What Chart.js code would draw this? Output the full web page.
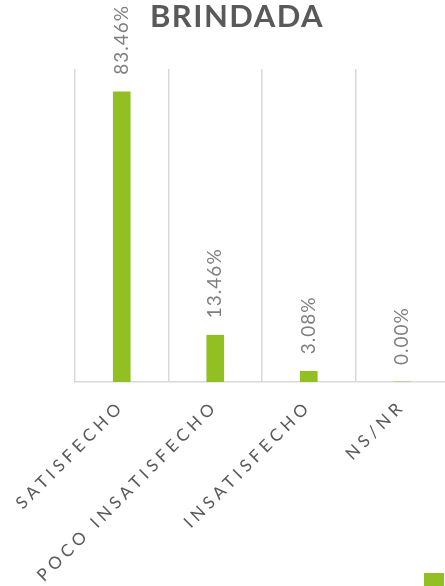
<!DOCTYPE html>
<html lang="es">
<head>
<meta charset="utf-8">
<title>BRINDADA</title>
<script src="https://cdn.jsdelivr.net/npm/chart.js@4"></script>
<style>
  html, body { margin: 0; padding: 0; background: #ffffff; }
  #frame { width: 445px; height: 586px; overflow: hidden; position: relative; }
  canvas { display: block; }
</style>
</head>
<body>
<div id="frame">
  <canvas id="chart" width="474" height="597"></canvas>
</div>
<script>
// Satisfaction levels and their share of responses (%)
const categories = ['SATISFECHO', 'POCO INSATISFECHO', 'INSATISFECHO', 'NS/NR'];
const shares = [83.46, 13.46, 3.08, 0.00];
const titleText = 'BRINDADA';

const GREEN = '#92C022';
const DARK_GREY = '#595959';
const LABEL_GREY = '#7f7f7f';
const GRID_GREY = '#d9d9d9';

const TITLE_SPACING = '1.5px';
const TICK_SPACING = '4.5px';
const VALUE_SPACING = '1px';

// Letter spacing: title first, then value labels, then the category ticks
// (ticks use z:1 so they are painted after the datasets).
const spacingPlugin = {
  id: 'spacing',
  beforeLayout(chart) { chart.ctx.letterSpacing = TICK_SPACING; },
  // let the slanted category labels run down past the axis box
  afterLayout(chart) { chart.scales.x.bottom = chart.height; },
  beforeDraw(chart) { chart.ctx.letterSpacing = TITLE_SPACING; },
  afterDatasetsDraw(chart) { chart.ctx.letterSpacing = TICK_SPACING; }
};

// Vertical percentage labels above each bar
const valueLabels = {
  id: 'valueLabels',
  afterDatasetsDraw(chart) {
    const ctx = chart.ctx;
    chart.data.datasets.forEach((ds, di) => {
      const meta = chart.getDatasetMeta(di);
      meta.data.forEach((bar, i) => {
        const text = ds.data[i].toFixed(2) + '%';
        ctx.save();
        ctx.letterSpacing = VALUE_SPACING;
        ctx.font = '19px Lato';
        ctx.fillStyle = LABEL_GREY;
        ctx.textAlign = 'left';
        ctx.textBaseline = 'middle';
        ctx.translate(bar.x, bar.y - 17);
        ctx.rotate(-Math.PI / 2);
        ctx.fillText(text, 0, 0);
        ctx.restore();
      });
    });
  }
};

new Chart(document.getElementById('chart'), {
  type: 'bar',
  data: {
    labels: categories,
    datasets: [{
      label: '',
      data: shares,
      backgroundColor: GREEN,
      borderWidth: 0,
      barThickness: 17
    }]
  },
  options: {
    responsive: false,
    animation: false,
    events: [],
    layout: { padding: 0 },
    plugins: {
      title: {
        display: true,
        text: titleText,
        color: DARK_GREY,
        font: { family: 'Lato', size: 31, weight: 'bold', lineHeight: 1 },
        padding: { top: 1, bottom: 37 }
      },
      legend: {
        display: true,
        position: 'bottom',
        align: 'end',
        labels: { boxWidth: 20, boxHeight: 14, padding: 25, font: { size: 10 } }
      },
      tooltip: { enabled: false }
    },
    scales: {
      x: {
        grid: {
          display: true,
          offset: true,
          color: GRID_GREY,
          lineWidth: 1.5,
          drawTicks: false
        },
        border: { display: true, color: GRID_GREY, width: 1.5 },
        ticks: {
          z: 1,
          color: DARK_GREY,
          font: { family: 'Lato', size: 17 },
          minRotation: 45,
          maxRotation: 45,
          autoSkip: false,
          padding: 14
        },
        afterFit(scale) {
          scale.height = 166;
          scale.paddingLeft = 0;
          scale.paddingRight = 0;
        }
      },
      y: {
        min: 0,
        max: 90,
        ticks: { display: false },
        grid: { display: false },
        border: { display: false },
        afterFit(scale) { scale.width = 75; }
      },
      yRight: {
        position: 'right',
        display: true,
        ticks: { display: false },
        grid: { display: false },
        border: { display: false },
        afterFit(scale) { scale.width = 25; }
      }
    }
  },
  plugins: [spacingPlugin, valueLabels]
});
</script>
</body>
</html>
